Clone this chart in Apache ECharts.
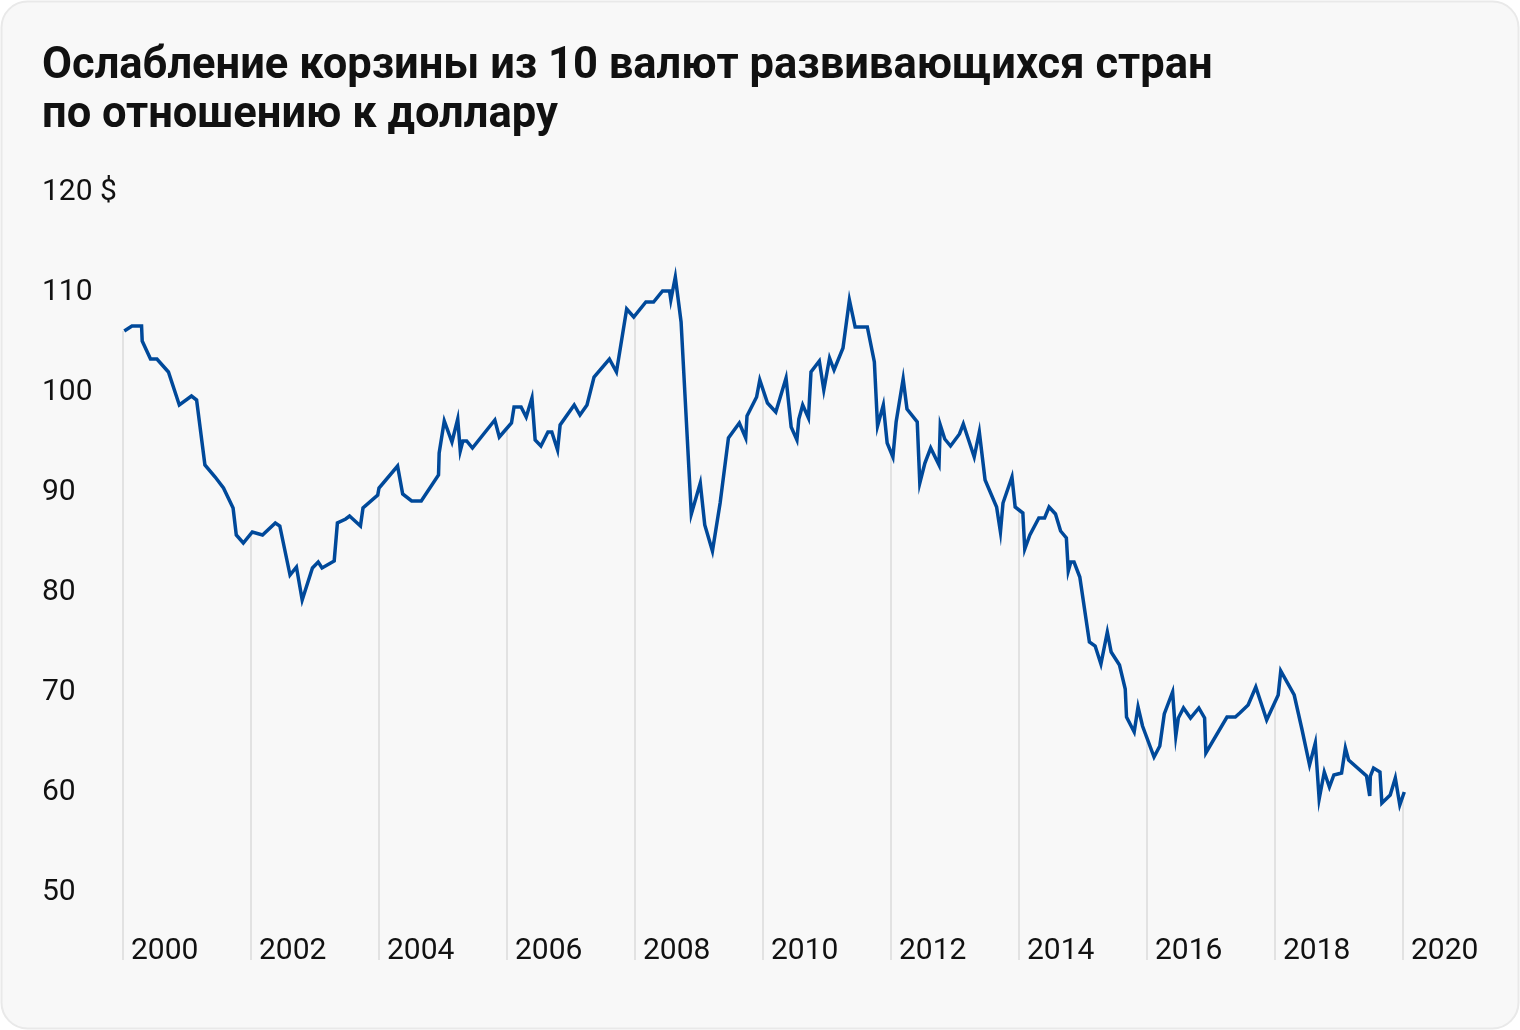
<!DOCTYPE html>
<html>
<head>
<meta charset="utf-8">
<script src="https://cdn.jsdelivr.net/npm/echarts@6/dist/echarts.min.js"></script>
<style>
html,body{margin:0;padding:0;background:#ffffff;}
#chart{width:1520px;height:1030px;}
</style>
</head>
<body>
<div id="chart"></div>
<script>
// Time (decimal years) and index values
const dates = [
  2000.02,2000.14,2000.29,2000.30,2000.43,2000.53,2000.71,2000.88,2001.07,2001.15,
  2001.28,2001.44,2001.57,2001.72,2001.77,2001.88,2002.02,2002.18,2002.38,2002.45,
  2002.61,2002.71,2002.80,2002.96,2003.05,2003.11,2003.30,2003.35,2003.48,2003.54,
  2003.71,2003.75,2003.98,2004.00,2004.29,2004.37,2004.51,2004.66,2004.93,2004.94,
  2005.02,2005.14,2005.23,2005.27,2005.31,2005.37,2005.46,2005.81,2005.88,2006.07,
  2006.11,2006.22,2006.30,2006.39,2006.44,2006.53,2006.64,2006.70,2006.79,2006.83,
  2007.05,2007.14,2007.25,2007.36,2007.60,2007.71,2007.87,2007.98,2008.17,2008.29,
  2008.43,2008.54,2008.56,2008.63,2008.72,2008.88,2009.02,2009.09,2009.21,2009.33,
  2009.46,2009.63,2009.73,2009.75,2009.90,2009.95,2010.07,2010.20,2010.36,2010.44,
  2010.53,2010.56,2010.62,2010.71,2010.75,2010.88,2010.95,2011.04,2011.11,2011.25,
  2011.35,2011.44,2011.63,2011.74,2011.79,2011.88,2011.94,2012.03,2012.08,2012.19,
  2012.25,2012.41,2012.45,2012.53,2012.62,2012.75,2012.77,2012.84,2012.93,2013.07,
  2013.13,2013.30,2013.38,2013.47,2013.65,2013.71,2013.75,2013.89,2013.94,2014.06,
  2014.09,2014.17,2014.31,2014.40,2014.47,2014.57,2014.65,2014.74,2014.77,2014.81,
  2014.86,2014.95,2015.10,2015.19,2015.28,2015.38,2015.44,2015.57,2015.66,2015.68,
  2015.80,2015.86,2015.93,2016.11,2016.20,2016.27,2016.40,2016.45,2016.49,2016.57,
  2016.68,2016.81,2016.90,2016.92,2017.25,2017.38,2017.45,2017.58,2017.70,2017.87,
  2018.05,2018.09,2018.30,2018.42,2018.54,2018.63,2018.69,2018.77,2018.85,2018.92,
  2019.04,2019.10,2019.15,2019.43,2019.48,2019.49,2019.54,2019.64,2019.67,2019.80,
  2019.88,2019.95,2020.02
];
const values = [
  105.8,106.3,106.3,104.8,103.0,103.0,101.7,98.4,99.3,98.9,
  92.4,91.2,90.1,88.1,85.4,84.6,85.7,85.4,86.6,86.3,
  81.4,82.2,78.9,82.1,82.7,82.1,82.8,86.6,87.0,87.3,
  86.3,88.1,89.4,90.1,92.3,89.5,88.8,88.8,91.4,93.6,
  96.8,94.7,97.0,93.8,94.8,94.8,94.1,96.9,95.2,96.6,
  98.2,98.2,97.2,99.1,94.9,94.3,95.7,95.7,93.9,96.4,
  98.4,97.4,98.4,101.2,103.0,101.7,108.0,107.2,108.7,108.7,
  109.8,109.8,108.9,111.2,106.7,87.5,90.6,86.4,83.8,88.6,
  95.1,96.6,95.1,97.3,99.2,100.9,98.6,97.7,101.1,96.2,
  94.9,97.0,98.4,97.1,101.7,102.8,99.9,103.1,101.9,104.1,
  108.9,106.2,106.2,102.7,96.3,98.4,94.6,93.2,96.7,101.0,
  98.0,96.7,90.6,92.6,94.1,92.4,96.4,95.0,94.3,95.5,
  96.5,93.2,95.7,90.9,88.2,85.7,88.6,91.2,88.2,87.6,
  84.0,85.4,87.1,87.1,88.2,87.5,85.8,85.1,81.8,82.7,
  82.7,81.2,74.7,74.3,72.5,75.7,73.7,72.4,70.0,67.2,
  65.7,68.2,66.3,63.2,64.3,67.5,69.7,65.3,67.1,68.1,
  67.1,68.1,67.1,63.6,67.2,67.2,67.6,68.4,70.2,66.9,
  69.4,71.8,69.4,66.0,62.4,64.6,59.0,61.7,60.2,61.4,
  61.6,64.1,62.9,61.3,59.3,61.3,62.1,61.7,58.6,59.4,
  61.1,58.4,59.7
];
const tickYears = [2000,2002,2004,2006,2008,2010,2012,2014,2016,2018,2020];
const yTicks = [50,60,70,80,90,100,110,120];
const titleText = 'Ослабление корзины из 10 валют развивающихся стран\nпо отношению к доллару';
const unitSuffix = ' $';

const lineData = dates.map((d, i) => [d, values[i]]);

// value of the line at a given year (for the drop lines under the curve)
function lineAt(x) {
  if (x <= dates[0]) return values[0];
  for (let i = 1; i < dates.length; i++) {
    if (dates[i] >= x) {
      const t = (x - dates[i - 1]) / (dates[i] - dates[i - 1] || 1);
      return values[i - 1] + t * (values[i] - values[i - 1]);
    }
  }
  return values[values.length - 1];
}
const dropData = tickYears.map(y => [y, lineAt(y)]);
const DROP_BOTTOM = 42.9;

const chart = echarts.init(document.getElementById('chart'), null, {renderer: 'canvas'});
const FONT = 'Roboto, "Noto Sans", sans-serif';

chart.setOption({
  animation: false,
  backgroundColor: 'transparent',
  graphic: [{
    type: 'rect',
    z: -10,
    shape: {x: 1.5, y: 1.5, width: 1517, height: 1027, r: 26},
    style: {fill: '#f8f8f8', stroke: '#e9e9e9', lineWidth: 2}
  }],
  title: {
    text: titleText,
    left: 37,
    top: 38,
    textStyle: {
      fontFamily: FONT,
      fontWeight: 'bold',
      fontSize: 43.5,
      lineHeight: 49,
      color: '#111111'
    }
  },
  grid: {left: 123, right: 117, top: 189, bottom: 41, containLabel: false},
  xAxis: {
    type: 'value',
    min: 2000,
    max: 2020,
    interval: 2,
    axisLine: {show: false},
    axisTick: {show: false},
    splitLine: {show: false},
    axisLabel: {
      show: true,
      align: 'left',
      verticalAlign: 'middle',
      margin: -38,
      padding: [0, 0, 0, 8],
      fontFamily: FONT,
      fontSize: 30,
      color: '#111111',
      formatter: v => String(v),
      showMinLabel: true,
      showMaxLabel: true
    }
  },
  yAxis: {
    type: 'value',
    min: 40,
    max: 120,
    interval: 10,
    axisLine: {show: false},
    axisTick: {show: false},
    splitLine: {show: false},
    axisLabel: {
      align: 'left',
      verticalAlign: 'middle',
      margin: 81,
      fontFamily: FONT,
      fontSize: 30,
      color: '#111111',
      formatter: v => (yTicks.indexOf(v) < 0 ? '' : '{v|' + (v === 120 ? v + unitSuffix : String(v)) + '}'),
      rich: {
        v: {fontFamily: FONT, fontSize: 30, color: '#111111', padding: [6, 0, 0, 0]}
      }
    }
  },
  series: [
    {
      type: 'custom',
      z: 1,
      clip: false,
      data: dropData,
      renderItem: function (params, api) {
        const top = api.coord([api.value(0), api.value(1)]);
        const bot = api.coord([api.value(0), DROP_BOTTOM]);
        return {
          type: 'line',
          shape: {x1: top[0], y1: top[1], x2: bot[0], y2: bot[1]},
          style: {stroke: '#e2e2e2', lineWidth: 2}
        };
      }
    },
    {
      type: 'line',
      z: 3,
      data: lineData,
      showSymbol: false,
      symbol: 'none',
      lineStyle: {color: '#00499a', width: 3.5, join: 'miter'},
      clip: false
    }
  ]
});
</script>
</body>
</html>
